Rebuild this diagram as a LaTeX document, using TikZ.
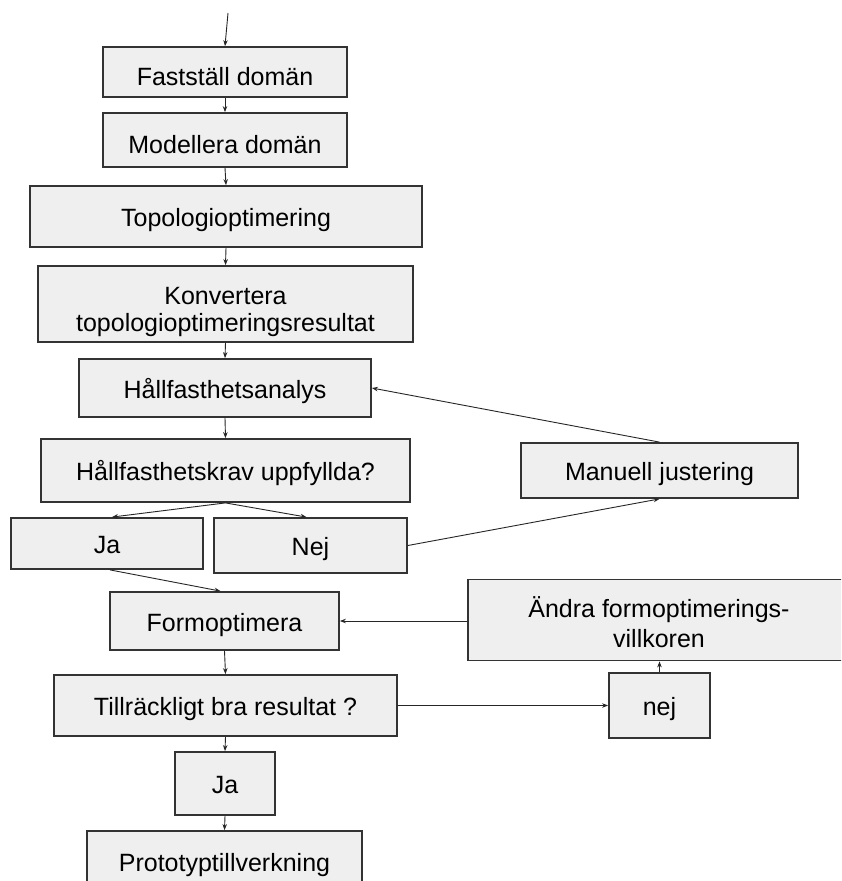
\documentclass[tikz,border=0pt]{standalone}
\usepackage{fontspec}
\setmainfont{Liberation Sans}
\usetikzlibrary{arrows.meta}
\definecolor{boxfill}{HTML}{EFEFEF}
\definecolor{boxline}{HTML}{333333}
\newcommand{\twolines}[3]{\raisebox{-#1}[\height][\depth]{\begin{tabular}{@{}c@{}}#2\\#3\end{tabular}}}

\begin{document}
\begin{tikzpicture}[x=1pt, y=-1pt,
        box/.style={draw=boxline, line width=1.8pt, fill=boxfill, inner sep=0pt,
                    font=\fontsize{25}{27}\selectfont},
        oneline/.style={box, text height=20pt, text depth=0pt},
        arr/.style={-{Stealth[length=6pt, width=4.5pt]}, line width=0.9pt, draw=black!85}]
                        % Frame:
                        \useasboundingbox (0,0) rectangle (841,881);
                        \clip (0,0) rectangle (841,881);
                        \fill[white] (0,0) rectangle (841,881);

                        % Left column:
                        \node[oneline, text height=27pt, minimum width=244, minimum height=50] (fast)  at (225,72)    {Fastställ domän};
                        \node[oneline, minimum width=244, minimum height=54, text height=26pt] (model) at (225,140) {Modellera domän};
                        \node[oneline, minimum width=392, minimum height=61] (topo)  at (226,216.5) {Topologioptimering};
                        \node[box, minimum width=375, minimum height=76]     (konv)  at (225.5,304) {\twolines{9pt}{Konvertera}{topologioptimeringsresultat}};
                        \node[oneline, minimum width=292, minimum height=58] (hallf) at (225,388)   {Hållfasthetsanalys};
                        \node[oneline, minimum width=369, minimum height=63] (krav)  at (225.5,470.5) {Hållfasthetskrav uppfyllda?};
                        \node[oneline, minimum width=192, minimum height=51] (ja)    at (107,543.5) {Ja};
                        \node[oneline, minimum width=193, minimum height=55] (nej)   at (310.5,545.5) {Nej};
                        \node[oneline, minimum width=229, minimum height=58] (form)  at (224.5,621) {Formoptimera};
                        \node[oneline, minimum width=343, minimum height=61] (tillr) at (225.5,705.5) {Tillräckligt bra resultat ?};
                        \node[oneline, minimum width=100, minimum height=63] (jab)   at (225,783.5) {Ja};
                        \node[oneline, minimum width=275, minimum height=60] (proto) at (224.5,861)  {Prototyptillverkning};

                        % Right column:
                        \node[oneline, minimum width=277, minimum height=55] (manuell) at (659.5,470.5) {Manuell justering};
                        \node[box, font=\fontsize{25}{30}\selectfont, minimum width=382, minimum height=81] (andra) at (659,620)
                             {\twolines{6.5pt}{Ändra formoptimerings-}{villkoren}};
                        \node[oneline, minimum width=101, minimum height=65] (nejb)    at (659.5,705.5) {nej};

                        % Arrows:
                        \coordinate (start) at (228,13);
                        \draw[arr] (start) -- (fast.north);
                        \draw[arr] (fast.south) -- (model.north);
                        \draw[arr] (model.south) -- (topo.north);
                        \draw[arr] (topo.south) -- (konv.north);
                        \draw[arr] (konv.south) -- (hallf.north);
                        \draw[arr] (hallf.south) -- (krav.north);
                        \draw[arr] (krav.south) -- ([xshift=5]ja.north);
                        \draw[arr] (krav.south) -- ([xshift=-4]nej.north);
                        \draw[arr] ([xshift=3]ja.south) -- ([xshift=-4]form.north);
                        \draw[arr] (nej.east) -- (manuell.south);
                        \draw[arr] (manuell.north) -- (hallf.east);
                        \draw[arr] (andra.west |- form.east) -- (form.east);
                        \draw[arr] (form.south) -- (tillr.north);
                        \draw[arr] (tillr.east) -- (nejb.west);
                        \draw[arr] (nejb.north) -- (nejb.north |- andra.south);
                        \draw[arr] (tillr.south) -- (jab.north);
                        \draw[arr] (jab.south) -- (proto.north);
                    \end{tikzpicture}
\end{document}
